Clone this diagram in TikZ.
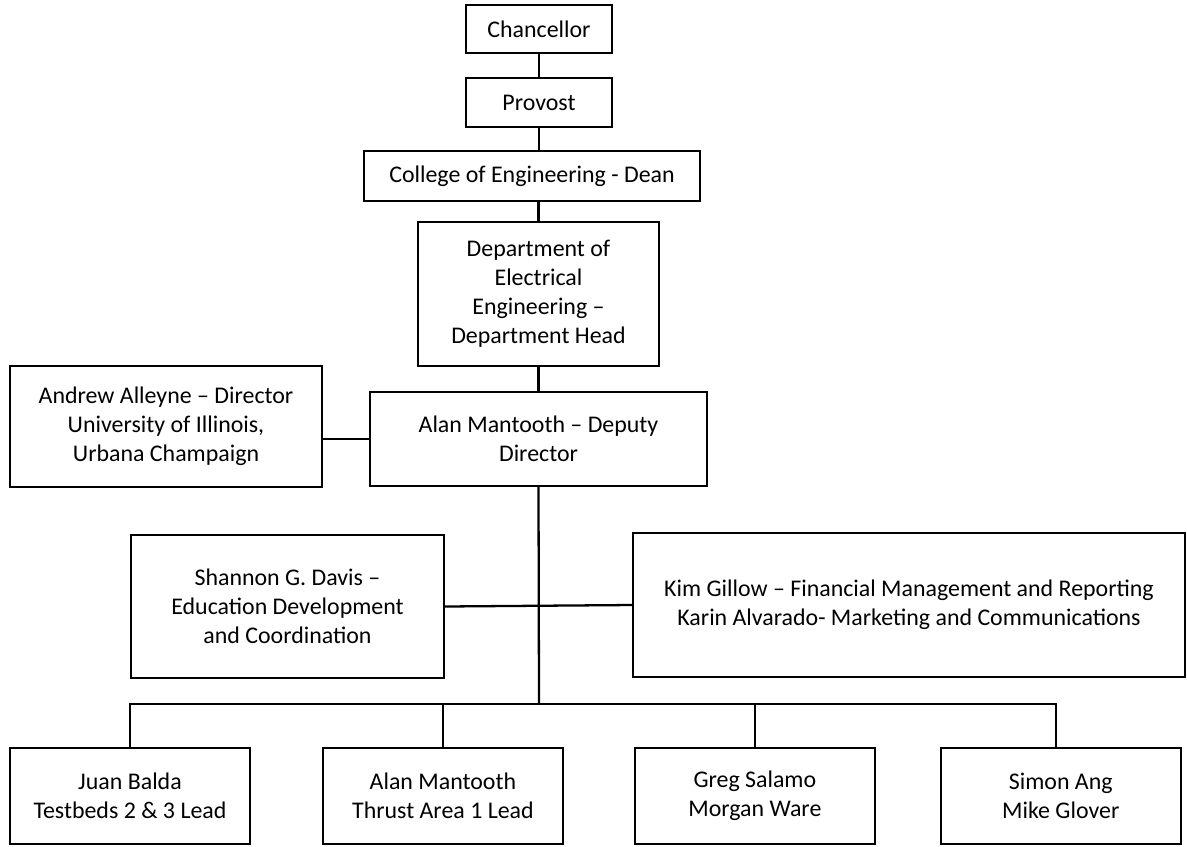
\documentclass[tikz,border=0pt]{standalone}
\usepackage{fontspec}
\setmainfont{Carlito}
\usetikzlibrary{positioning}

\begin{document}
\begin{tikzpicture}[x=0.02cm, y=-0.02cm,
        unit/.style={rectangle, draw, line width=1.3pt, align=center, inner sep=0pt, font=\fontsize{13.6}{16.6}\selectfont},
        lead/.style={unit, minimum width=4.8cm, minimum height=1.92cm},
        link/.style={line width=1.3pt}
    ]
        \useasboundingbox (0,0) rectangle (1187,846);
        % chain of command
        \node[unit, minimum width=2.92cm, minimum height=0.96cm] (chan) at (539,29) {Chancellor};
        \node[unit, minimum width=2.92cm, minimum height=0.98cm, below=0.454cm of chan] (prov) {Provost};
        \node[unit, minimum width=6.72cm, minimum height=1.0cm, below=0.434cm of prov, xshift=-0.14cm] (dean) {College of Engineering - Dean};
        \node[unit, minimum width=4.82cm, minimum height=2.88cm, below=0.374cm of dean, xshift=0.13cm] (head) {Department of\\Electrical\\Engineering –\\Department Head};
        \node[unit, minimum width=6.74cm, minimum height=1.88cm, below=0.474cm of head] (deputy) {Alan Mantooth – Deputy\\Director};
        \node[unit, minimum width=6.24cm, minimum height=2.42cm] (director) at (166,426.5) {Andrew Alleyne – Director\\University of Illinois,\\Urbana Champaign};
        % staff
        \node[unit, minimum width=6.26cm, minimum height=2.86cm] (edu) at (287.5,606.5) {Shannon G. Davis –\\Education Development\\and Coordination};
        \node[unit, minimum width=11.04cm, minimum height=2.88cm] (fin) at (909,605) {Kim Gillow – Financial Management and Reporting\\Karin Alvarado- Marketing and Communications};
        % thrust and testbed leads
        \node[lead] (juan) at (130,796) {Juan Balda\\Testbeds 2 \& 3 Lead};
        \node[lead, right=1.414cm of juan] (thrust) {Alan Mantooth\\Thrust Area 1 Lead};
        \node[lead, right=1.394cm of thrust] (greg) {Greg Salamo\\Morgan Ware};
        \node[lead, right=1.274cm of greg] (simon) {Simon Ang\\Mike Glover};
        \coordinate (bus) at (539,704);
        \draw[link] (chan) -- (prov);
        \draw[link] (prov) -- (prov |- dean.north);
        \draw[link] (head.north) -- (head.north |- dean.south);
        \draw[link] (head) -- (deputy);
        \draw[link] (deputy.west) -- (deputy.west -| director.east);
        \draw[link] (deputy.south) -- (bus);
        \draw[link] (edu.east) -- (fin.west);
        \draw[link] (juan.north) |- (bus) -| ([xshift=-0.09cm]simon.north);
        \draw[link] (thrust.north) -- (thrust.north |- bus);
        \draw[link] (greg.north) -- (greg.north |- bus);
    \end{tikzpicture}
\end{document}
